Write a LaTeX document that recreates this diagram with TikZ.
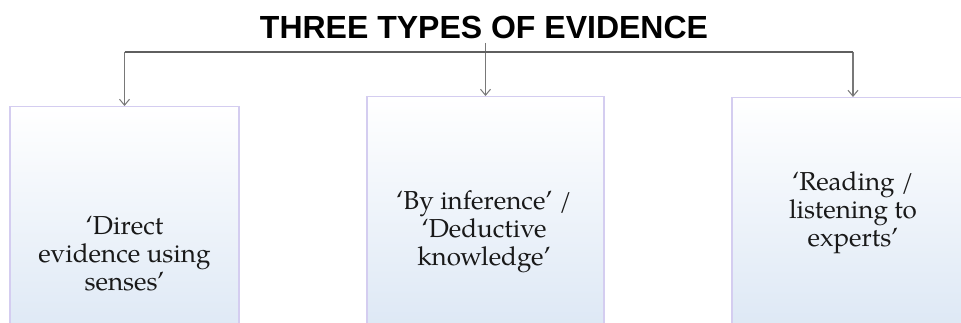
\documentclass[tikz,border=0pt]{standalone}
\usepackage{fontspec}
\setmainfont{TeX Gyre Pagella}
\newfontfamily\titlefont{Liberation Sans}
\usetikzlibrary{arrows.meta}
\definecolor{boxblue}{RGB}{211,225,242}
\definecolor{boxedge}{RGB}{212,205,240}
\definecolor{connc}{RGB}{95,95,95}
\definecolor{arrc}{RGB}{120,120,120}
\tikzset{
  evbox/.style={draw=boxedge, line width=1.2pt, top color=white, bottom color=boxblue, minimum height=300pt, anchor=north, inner sep=0pt},
  evtext/.style={align=center, font=\fontsize{26}{28}\selectfont, text=black!90, inner sep=0pt},
  conn/.style={draw=connc, line width=1.2pt},
  arr/.style={draw=arrc, line width=1.1pt, -{Straight Barb[length=6pt,width=10pt,line width=1pt]}},
  titlestyle/.style={font=\titlefont\bfseries\fontsize{32}{36}\selectfont, inner sep=0pt}
}
\begin{document}
\begin{tikzpicture}[x=1pt,y=-1pt]
\useasboundingbox (0,0) rectangle (961,323);
\clip (0,0) rectangle (961,323);
\fill[white] (0,0) rectangle (961,323);
\node[titlestyle] (title) at (484,27) {THREE TYPES OF EVIDENCE};
\node[evbox, minimum width=229pt] (a) at (124.5,106) {};
\node[evbox, minimum width=237pt] (b) at (485.5,96) {};
\node[evbox, minimum width=242pt] (c) at (853,97) {};
\node[evtext] (ta) at (124.5,254) {`Direct\\evidence using\\senses'};
\node[evtext] (tb) at (484,232) {`By inference' /\\`Deductive\\knowledge'};
\node[evtext] (tc) at (853,213) {`Reading /\\listening to\\experts'};
\coordinate (j) at (485.5,52);
\coordinate (jtop) at (485.5,43);
\draw[arr] (a.north |- j) -- (a.north);
\draw[arr] (jtop) -- (b.north);
\draw[arr] (c.north |- j) -- (c.north);
\draw[conn] (a.north |- j) -- (c.north |- j);
\end{tikzpicture}
\end{document}
